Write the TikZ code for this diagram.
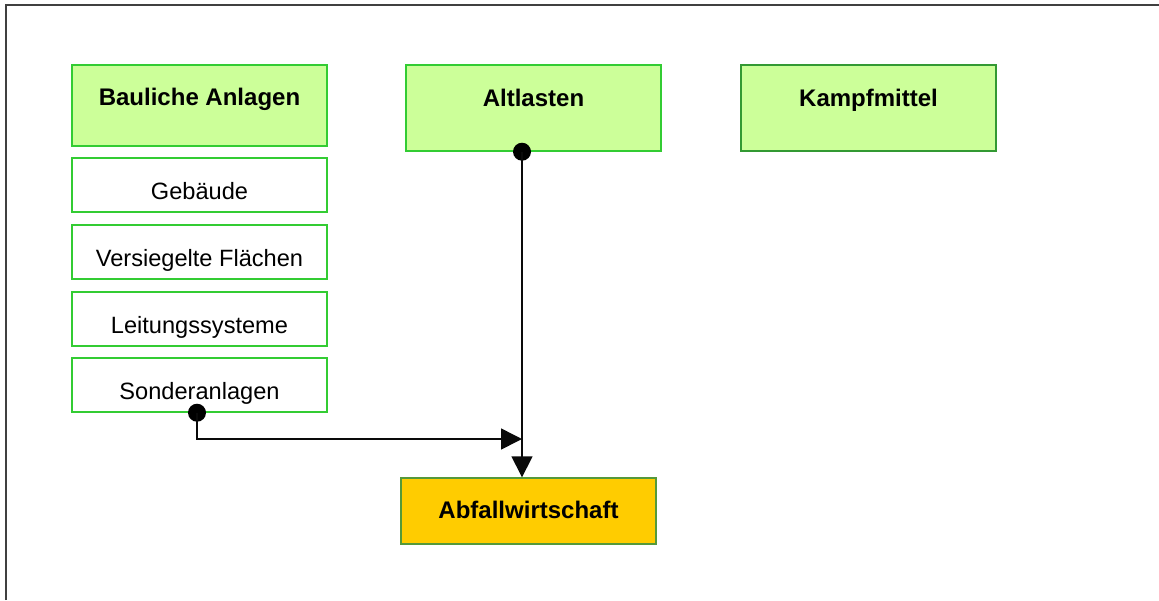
\documentclass[tikz,border=0pt]{standalone}
\usepackage{fontspec}
\setmainfont{Liberation Sans}
\usepackage{tikz}
\usetikzlibrary{arrows.meta}
\definecolor{leaf}{HTML}{CCFF99}
\definecolor{rim}{HTML}{33CC33}
\definecolor{darkrim}{HTML}{339933}
\definecolor{gold}{HTML}{FFCC00}
\definecolor{goldrim}{HTML}{55993A}
\definecolor{wire}{HTML}{0A0A0A}
\definecolor{frame}{HTML}{404040}
\tikzset{
  head/.style={draw=rim, fill=leaf, line width=0.7pt, inner sep=0pt,
    minimum width=127.5pt, minimum height=40.5pt,
    font=\fontsize{12}{14}\selectfont\bfseries, text height=6pt, text depth=6pt},
  sub/.style={draw=rim, fill=white, line width=0.7pt, inner sep=0pt,
    minimum width=127.5pt, minimum height=27pt,
    font=\fontsize{11.8}{14}\selectfont, text height=14pt, text depth=0pt},
  sink/.style={draw=goldrim, fill=gold, line width=0.7pt, inner sep=0pt,
    minimum width=127.5pt, minimum height=33pt,
    font=\fontsize{12}{14}\selectfont\bfseries, text height=8.6pt, text depth=1.6pt},
  link/.style={draw=wire, line width=0.75pt},
  tip/.style={-{Triangle[length=10.5pt,width=10.5pt]}},
  dot/.style={circle, fill=black, inner sep=0pt, minimum size=9pt}
}

\begin{document}
\begin{tikzpicture}[x=0.5pt, y=-0.5pt]
  \useasboundingbox (0,0) rectangle (1159,600);
  \draw[frame, line width=1pt] (6,600) -- (6,5) -- (1159,5);

  % top row
  \node[head] (bau) at (199.5,105.5) {Bauliche Anlagen};
  \node[head, minimum height=43pt, text depth=8pt] (alt) at (533.5,108) {Altlasten};
  \node[head, draw=darkrim, minimum height=43pt, text depth=8pt] (kam) at (868.5,108) {Kampfmittel};

  % parts of the buildings
  \node[sub] (geb) at (199.5,185) {Gebäude};
  \node[sub] (ver) at (199.5,252) {Versiegelte Flächen};
  \node[sub] (lei) at (199.5,319) {Leitungssysteme};
  \node[sub] (son) at (199.5,385) {Sonderanlagen};

  \node[sink] (abf) at (528.5,511) {Abfallwirtschaft};

  % connectors
  \node[dot] (altdot) at ([xshift=-5.75pt]alt.south) {};
  \node[dot] (sondot) at ([xshift=-1.25pt]son.south) {};
  \coordinate (merge) at (522,439);

  \draw[link, tip] (altdot.center) -- (altdot |- abf.north);
  \draw[link, tip] (sondot.center) |- (merge);
\end{tikzpicture}
\end{document}
